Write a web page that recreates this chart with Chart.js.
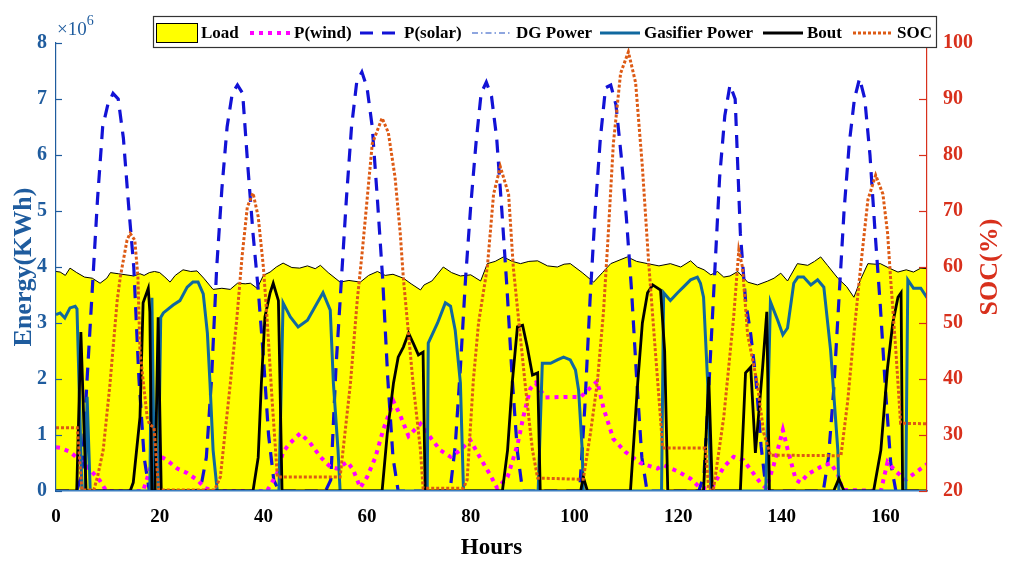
<!DOCTYPE html>
<html>
<head>
<meta charset="utf-8">
<title>Energy dispatch - one week</title>
<script src="https://cdn.jsdelivr.net/npm/chart.js@4.4.1/dist/chart.umd.min.js"></script>
<style>
  html, body { margin: 0; padding: 0; background: #fff; }
  #wrap { width: 1011px; height: 565px; }
</style>
</head>
<body>
<div id="wrap"><canvas id="energyChart"></canvas></div>
<script>
/* values in 10^6 kWh (left axis) and % (right axis), hours on x */
const hourTicks = [0, 20, 40, 60, 80, 100, 120, 140, 160];

const loadHours = [0,0.8,1.8,2.7,4,5.5,7,8.5,9.8,10.5,12,13.5,15,16.2,17,18,19,20,21,22,23,24.5,26,27.2,28.5,30.3,32,33.6,35,36.5,37.5,38.8,40,41.3,42.5,43.8,45.5,47,48.5,50,51,52.5,54.8,56.5,58.7,60.3,62,63.5,65,67,68.5,70.3,71,72.5,74.7,76.3,78,80,81.9,83.2,84.7,86.3,88,89.6,91.2,92.9,94.8,96.7,98,99.2,101.5,103.7,105.4,107,108.6,110.2,112,114.1,116.3,118.5,120.5,122.4,123.7,125,126.3,127.6,128.8,130,131.5,133.4,135.3,137.3,138.5,139.8,141.1,143,145,146.3,147.5,148.8,150.8,152.5,153.9,155.3,156.6,158,159,160.7,162.4,164,165.4,166.8,168];
const loadValues = [3.92,3.91,3.85,3.98,3.9,3.82,3.8,3.71,3.8,3.9,3.88,3.86,3.84,3.88,3.85,3.9,3.92,3.9,3.82,3.73,3.85,3.95,3.92,3.93,3.8,3.6,3.62,3.6,3.71,3.7,3.71,3.62,3.85,3.91,4.0,4.07,3.99,3.98,4.02,3.97,4.03,3.9,3.73,3.76,3.73,3.85,3.92,3.85,3.87,3.8,3.7,3.59,3.68,3.75,4.0,3.9,3.84,3.86,3.75,4.06,4.1,4.18,4.1,4.06,4.1,4.11,4.02,4.0,4.05,4.06,3.9,3.73,3.9,4.06,4.12,4.18,4.1,4.06,4.02,4.06,4.0,4.11,4.0,3.95,3.86,3.92,3.82,3.84,3.92,3.73,3.68,3.75,3.8,3.89,3.75,4.06,4.03,4.1,4.18,4.03,3.8,3.65,3.46,3.8,4.06,4.05,4.06,3.98,3.91,3.95,3.91,3.98,3.97];

const windHours = [0,0.8,2.7,4.6,6.6,8.5,9.7,16.8,17.6,19.1,21.4,23.4,25.3,27.2,28.8,30.7,40.7,42.7,43.8,45.2,47.1,49,51,52.9,54.2,56.2,57.3,58.7,60,61.6,63.1,65.1,66.4,68,70.3,72.2,74.1,76.1,78,79.9,81.9,83.8,85.1,87.1,89,90.2,91.5,92.5,94.4,97.9,101.2,103.7,104.4,105.6,107.5,109.8,112.7,116,117.2,119.9,122.4,124.3,125.9,126.8,128.8,130.7,132.6,134,135.9,137,138.4,140.2,141.1,142.7,143.6,145,147.5,149.4,150.8,151.7,159.1,160.4,162,163.9,165.8,168];
const windValues = [0.78,0.77,0.7,0.55,0.38,0.18,0,0,0.23,0.68,0.55,0.4,0.32,0.2,0.05,0,0,0.32,0.7,0.86,1.03,0.86,0.61,0.43,0.4,0.52,0.38,0.06,0.25,0.6,1.09,1.6,1.35,0.98,1.2,0.96,0.73,0.61,0.73,0.91,0.58,0.28,0.05,0.25,0.82,1.35,1.83,1.93,1.67,1.68,1.68,1.9,1.96,1.48,0.93,0.7,0.5,0.4,0.46,0.35,0.22,0.05,0.05,0.1,0.43,0.61,0.55,0.38,0.14,0.05,0.45,1.09,0.75,0.2,0.15,0.3,0.43,0.5,0.3,0.02,0,0.52,0.35,0.2,0.33,0.48];

// hourly solar output, one row per day (hour 0 .. 167), plus hour 168
const solarValues = [
  0,0,0,0,0,0.3,2.0,3.6,5.2,6.5,6.9,7.1,7.0,6.3,5.1,4.0,2.0,0.6,0,0,0,0,0,0,
  0,0,0,0,0.1,0.6,2.0,4.0,5.4,6.5,7.1,7.25,7.1,5.8,4.6,3.6,2.4,1.0,0.2,0,0,0,0,0,
  0,0,0,0,0,0.2,2.2,3.7,5.2,6.5,7.3,7.48,7.2,6.5,5.2,3.8,2.0,0.6,0,0,0,0,0,0,
  0,0,0,0,0,0.8,2.2,3.8,5.1,6.2,7.1,7.3,7.05,6.3,5.0,3.6,2.0,0.7,0,0,0,0,0,0,
  0,0,0,0,0,0,1.5,3.4,5.0,6.3,7.2,7.25,6.9,6.0,4.9,3.6,2.0,0.6,0,0,0,0,0,0,
  0,0,0,0,0,0.3,2.0,3.8,5.6,6.7,7.25,7.0,4.6,3.4,2.8,2.0,0.8,0,0,0,0,0,0,0,
  0,0,0,0,0,0.6,1.8,3.4,5.0,6.2,7.0,7.37,7.0,6.0,4.6,3.3,1.8,0.5,0,0,0,0,0,0,
  0
];

const dgHours = [0, 168];
const dgValues = [0, 0];

const gasHours = [0,0.8,1.7,2.7,3.7,4.05,5,5.6,6,6.6,18.1,18.5,19,19.7,20.2,20.7,22.6,23.9,25.3,26.4,27.4,28.4,29.2,29.7,30.3,31.1,43,43.8,45.2,46.7,48.5,50.4,51.5,52.9,53.5,54.4,54.8,71.6,71.8,73.6,75.1,76.1,77,78,78.6,93,93.8,95.4,96.7,97.9,99.2,100.2,100.8,101.5,101.7,116.8,117.2,118.5,119.9,121,122.4,123.7,124.3,124.9,125.7,126.3,136.9,137.8,139.2,140.2,141.1,142.3,143.1,144.2,145.6,146.9,148.1,149.4,150.8,151,163.9,164.3,165.4,166.8,168];
const gasValues = [3.15,3.18,3.09,3.27,3.3,3.25,0,0,1.68,0,0,3.45,0,0,3.1,3.18,3.32,3.4,3.64,3.73,3.73,3.52,2.82,1.93,0.73,0,0,3.36,3.11,2.93,3.05,3.36,3.54,3.23,1.93,0.73,0,0,2.64,3.0,3.36,3.3,2.87,1.93,0,0,2.28,2.28,2.34,2.39,2.34,2.16,1.8,0.73,0,0,3.54,3.4,3.54,3.64,3.77,3.82,3.71,3.46,1.93,0,0,3.38,3.05,2.79,2.91,3.71,3.82,3.82,3.68,3.77,3.64,2.52,0.73,0,0,3.77,3.62,3.62,3.45];

const boutHours = [0,4,4.8,5.8,14.3,14.9,16.2,16.8,17.8,18.1,18.5,19.1,19.7,20.3,38,39,39.6,40.3,41.3,41.9,42.9,43.6,62.9,63.9,65.1,66,67,68,68.9,69.9,70.8,71.2,86.1,87.1,88,89,90,90.9,91.9,92.9,93.4,101.2,101.7,102.5,110.8,112.2,113.1,114.1,115.1,116.6,117.4,118,124.9,125.9,126.6,132,133,134,134.9,136.3,137.1,137.6,150,151,152,157.7,159.1,160.4,161.4,162.4,163,163.3,168];
const boutValues = [0,0,2.84,0,0,0.15,1.32,3.36,3.62,3.2,0,0,3.1,0,0,0.6,1.9,3.11,3.54,3.71,3.4,0,0,1.03,1.93,2.39,2.57,2.82,2.64,2.43,2.48,0,0,0.73,1.93,2.93,2.96,2.57,2.07,2.11,0,0,0.25,0,0,1.93,3.0,3.54,3.68,3.59,2.5,0,0,2.04,0,0,2.11,2.21,0.68,2.21,3.2,0,0,0.22,0,0,0.73,2.21,3.0,3.46,3.54,0,0];

const socHours = [0,4.1,5,7.3,8,9.1,10.4,11.8,12.4,13.7,14.3,15.2,15.8,16.2,17.6,18.1,18.9,19.8,30.6,31.7,33.6,34.9,35.9,36.9,38,39,40,40.7,41.7,42.7,54.8,56.8,58.1,59.1,60,61,62.9,64.1,65.4,66.4,67,67.8,68.9,70.3,70.8,78.6,79.3,80.5,81.5,83.2,84.4,85.7,87.3,88.2,90.5,91.9,92.9,101.2,101.7,103.1,104.4,105.6,106.4,107.5,108.9,110.4,111.8,113.1,114.3,115.6,116.6,117,125.3,125.9,126.8,128.8,130.7,131.7,132.4,133.4,135.3,136.5,137.8,151,151.4,152.7,153.9,155.2,156.6,158.1,159.5,160.4,161,162,162.9,168];
const socValues = [31.3,31.3,20.2,20.2,22.5,27.3,39,54,58.2,64.8,66,64.8,58.2,45,33,31.8,31.4,20.2,20.2,22.5,39,51,62,70.7,73.2,69,60,51,36,22.5,22.5,39.3,54,63,72,82,86.6,84,76,66,58,50,39,27.3,20.5,20.5,22,39.8,50,60,73,77.9,73,60,39,27.3,22.3,22.1,22.1,30.4,39.3,52,64,82,94.6,98.4,92.9,77.9,61,45,33,27.7,27.7,20.2,20.2,33.2,51,63,60,48,39,30.4,26.4,26.3,26.3,36,48,60,72,76.4,73,66,57.7,45,32.1,32];

const SERIF = '"Liberation Serif", "Times New Roman", serif';
const BLUE_AXIS = '#1f5c9e';
const RED_AXIS = '#d8301c';

// legend sample start positions (px) and sample width
const legendSampleX = [156, 250, 360, 472, 600, 763, 853];

function toPoints(xs, ys) {
    return xs.map((x, i) => ({ x: x, y: ys[i] }));
}

const extrasPlugin = {
    id: 'matlabExtras',
    afterDraw(chart) {
        const { ctx, chartArea, scales } = chart;
        ctx.save();

        // inward tick marks
        ctx.lineWidth = 1.2;
        ctx.setLineDash([]);
        ctx.strokeStyle = BLUE_AXIS;
        scales.y.ticks.forEach(t => {
            const py = Math.round(scales.y.getPixelForValue(t.value)) + 0.5;
            ctx.beginPath();
            ctx.moveTo(chartArea.left, py);
            ctx.lineTo(chartArea.left + 6, py);
            ctx.stroke();
        });
        ctx.strokeStyle = RED_AXIS;
        scales.y2.ticks.forEach(t => {
            const py = Math.round(scales.y2.getPixelForValue(t.value)) + 0.5;
            ctx.beginPath();
            ctx.moveTo(chartArea.right, py);
            ctx.lineTo(chartArea.right - 8, py);
            ctx.stroke();
        });

        // x10^6 exponent
        ctx.fillStyle = BLUE_AXIS;
        ctx.textAlign = 'left';
        ctx.textBaseline = 'alphabetic';
        ctx.font = `19px ${SERIF}`;
        ctx.fillText('\u00d710', chartArea.left + 1, 35);
        const w = ctx.measureText('\u00d710').width;
        ctx.font = `14px ${SERIF}`;
        ctx.fillText('6', chartArea.left + 1 + w, 25);

        // right axis title (reads bottom to top)
        ctx.save();
        ctx.translate(990, 267);
        ctx.rotate(-Math.PI / 2);
        ctx.font = `bold 26px ${SERIF}`;
        ctx.fillStyle = RED_AXIS;
        ctx.textAlign = 'center';
        ctx.textBaseline = 'middle';
        ctx.fillText('SOC(%)', 0, 0);
        ctx.restore();

        // boxed legend
        ctx.fillStyle = '#fff';
        ctx.fillRect(153, 16, 783, 32);
        ctx.strokeStyle = '#333';
        ctx.lineWidth = 1.2;
        ctx.strokeRect(153.5, 16.5, 783, 31);
        ctx.font = `bold 17px ${SERIF}`;
        ctx.textBaseline = 'middle';
        chart.data.datasets.forEach((ds, i) => {
            const x0 = legendSampleX[i];
            const yc = 33;
            let sw = 40;
            if (ds.fill) {
                sw = 41;
                ctx.fillStyle = ds.backgroundColor;
                ctx.fillRect(x0, 23, sw, 20);
                ctx.setLineDash([]);
                ctx.lineWidth = 1;
                ctx.strokeStyle = '#000';
                ctx.strokeRect(x0 + 0.5, 23.5, sw, 19);
            } else {
                ctx.setLineDash(ds.borderDash || []);
                ctx.lineWidth = ds.borderWidth;
                ctx.strokeStyle = ds.borderColor;
                ctx.beginPath();
                ctx.moveTo(x0, yc);
                ctx.lineTo(x0 + sw, yc);
                ctx.stroke();
            }
            ctx.setLineDash([]);
            ctx.fillStyle = '#000';
            ctx.fillText(ds.label, x0 + sw + 4, yc + 1);
        });
        ctx.restore();
    }
};

const ctx = document.getElementById('energyChart');

new Chart(ctx, {
    type: 'line',
    data: {
        datasets: [
            {
                label: 'Load',
                data: toPoints(loadHours, loadValues),
                borderColor: '#000',
                borderWidth: 1,
                backgroundColor: '#ffff00',
                fill: 'origin',
                yAxisID: 'y',
                order: 7
            },
            {
                label: 'P(wind)',
                data: toPoints(windHours, windValues),
                borderColor: '#ff00ff',
                borderWidth: 4,
                borderDash: [4, 5],
                fill: false,
                yAxisID: 'y',
                order: 5
            },
            {
                label: 'P(solar)',
                data: solarValues.map((v, h) => ({ x: h, y: v })),
                borderColor: '#1212d6',
                borderWidth: 3.2,
                borderDash: [13, 9],
                fill: false,
                yAxisID: 'y',
                order: 6
            },
            {
                label: 'DG Power',
                data: toPoints(dgHours, dgValues),
                borderColor: '#1f4fc0',
                borderWidth: 1.2,
                borderDash: [6, 3, 1.5, 3],
                fill: false,
                yAxisID: 'y',
                order: 4
            },
            {
                label: 'Gasifier Power',
                data: toPoints(gasHours, gasValues),
                borderColor: '#10689f',
                borderWidth: 3,
                fill: false,
                yAxisID: 'y',
                order: 3
            },
            {
                label: 'Bout',
                data: toPoints(boutHours, boutValues),
                borderColor: '#000',
                borderWidth: 2.8,
                fill: false,
                yAxisID: 'y',
                order: 2
            },
            {
                label: 'SOC',
                data: toPoints(socHours, socValues),
                borderColor: '#dd5a14',
                borderWidth: 3,
                borderDash: [3, 2],
                fill: false,
                yAxisID: 'y2',
                order: 1
            }
        ]
    },
    options: {
        responsive: true,
        maintainAspectRatio: false,
        animation: false,
        events: [],
        layout: { padding: { top: 43, left: 0, right: 0, bottom: 0 } },
        elements: {
            point: { radius: 0 },
            line: { tension: 0, borderCapStyle: 'butt' }
        },
        plugins: {
            legend: { display: false },
            tooltip: { enabled: false }
        },
        scales: {
            x: {
                type: 'linear',
                min: 0,
                max: 168,
                afterBuildTicks: s => { s.ticks = hourTicks.map(v => ({ value: v })); },
                afterFit: s => { s.height = 74; },
                grid: { display: true, drawOnChartArea: false, drawTicks: false },
                border: { display: true, color: '#3d7fc0', width: 1.5, z: 1 },
                ticks: {
                    color: '#000',
                    padding: 15,
                    maxRotation: 0,
                    font: { family: SERIF, size: 19, weight: 'bold' }
                },
                title: {
                    display: true,
                    text: 'Hours',
                    color: '#000',
                    font: { family: SERIF, size: 23, weight: 'bold' },
                    padding: { top: 0, bottom: 3 }
                }
            },
            y: {
                position: 'left',
                min: 0,
                max: 8,
                afterFit: s => { s.width = 56; },
                grid: { display: true, drawOnChartArea: false, drawTicks: false },
                border: { display: true, color: BLUE_AXIS, width: 1.2, z: 1 },
                ticks: {
                    stepSize: 1,
                    color: BLUE_AXIS,
                    padding: 9,
                    font: { family: SERIF, size: 20, weight: 'bold' }
                },
                title: {
                    display: true,
                    text: 'Energy(KWh)',
                    color: BLUE_AXIS,
                    font: { family: SERIF, size: 26, weight: 'bold' },
                    padding: { top: 9, bottom: 0 }
                }
            },
            y2: {
                position: 'right',
                min: 20,
                max: 100,
                afterFit: s => { s.width = 84; },
                grid: { display: true, drawOnChartArea: false, drawTicks: false },
                border: { display: true, color: RED_AXIS, width: 1.2, z: 1 },
                ticks: {
                    stepSize: 10,
                    color: RED_AXIS,
                    padding: 16,
                    font: { family: SERIF, size: 20, weight: 'bold' }
                }
            }
        }
    },
    plugins: [extrasPlugin]
});
</script>
</body>
</html>
